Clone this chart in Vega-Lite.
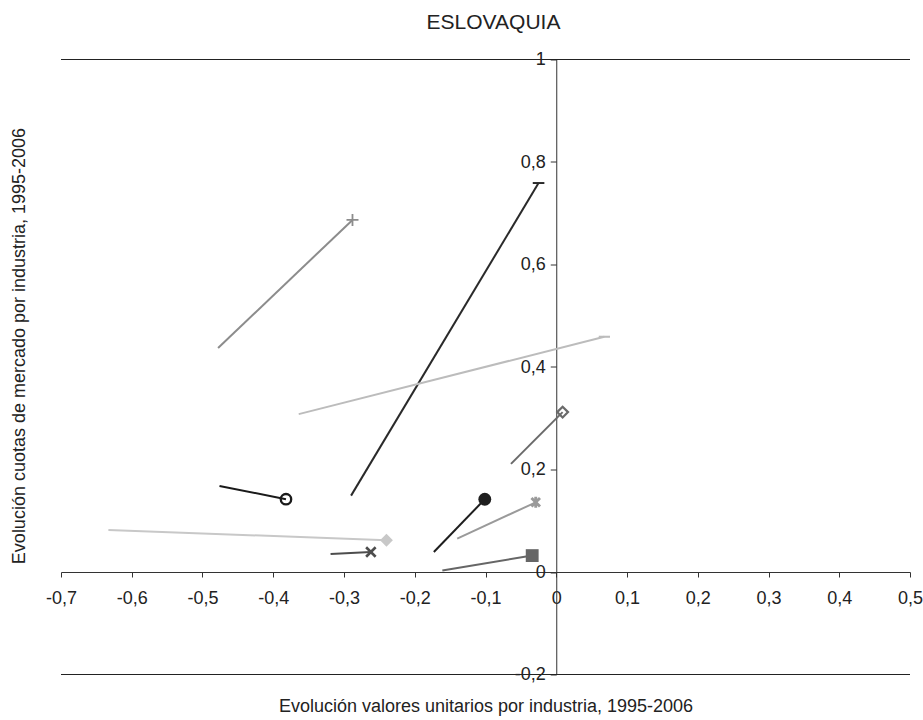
{
  "$schema": "https://vega.github.io/schema/vega-lite/v6.json",
  "width": 849,
  "height": 615,
  "autosize": {"type": "none"},
  "padding": {"left": 61, "top": 59.5, "right": 13, "bottom": 45.5},
  "background": "white",
  "config": {
    "view": {"stroke": null},
    "font": "Liberation Sans",
    "locale": {"number": {"decimal": ",", "thousands": ".", "grouping": [3], "currency": ["", " €"], "minus": "-"}}
  },
  "title": {
    "text": "ESLOVAQUIA",
    "frame": "group",
    "anchor": "middle",
    "fontSize": 21,
    "fontWeight": "normal",
    "font": "Liberation Sans",
    "color": "#222222",
    "offset": 18,
    "dx": 8
  },
  "data": {
    "values": [
      {"serie": "S1", "punto": "inicio", "x": -0.478, "y": 0.437},
      {"serie": "S1", "punto": "fin", "x": -0.288, "y": 0.687},
      {"serie": "S2", "punto": "inicio", "x": -0.290, "y": 0.149},
      {"serie": "S2", "punto": "fin", "x": -0.025, "y": 0.759},
      {"serie": "S3", "punto": "inicio", "x": -0.364, "y": 0.308},
      {"serie": "S3", "punto": "fin", "x": 0.068, "y": 0.459},
      {"serie": "S4", "punto": "inicio", "x": -0.064, "y": 0.211},
      {"serie": "S4", "punto": "fin", "x": 0.009, "y": 0.312},
      {"serie": "S5", "punto": "inicio", "x": -0.476, "y": 0.168},
      {"serie": "S5", "punto": "fin", "x": -0.382, "y": 0.142},
      {"serie": "S6", "punto": "inicio", "x": -0.633, "y": 0.082},
      {"serie": "S6", "punto": "fin", "x": -0.240, "y": 0.062},
      {"serie": "S7", "punto": "inicio", "x": -0.319, "y": 0.035},
      {"serie": "S7", "punto": "fin", "x": -0.262, "y": 0.039},
      {"serie": "S8", "punto": "inicio", "x": -0.173, "y": 0.039},
      {"serie": "S8", "punto": "fin", "x": -0.101, "y": 0.142},
      {"serie": "S9", "punto": "inicio", "x": -0.140, "y": 0.065},
      {"serie": "S9", "punto": "fin", "x": -0.029, "y": 0.136},
      {"serie": "S10", "punto": "inicio", "x": -0.161, "y": 0.003},
      {"serie": "S10", "punto": "fin", "x": -0.034, "y": 0.032}
    ]
  },
  "encoding": {
    "x": {
      "field": "x", "type": "quantitative",
      "scale": {"domain": [-0.7, 0.5], "nice": false, "zero": false},
      "axis": {
        "orient": "bottom", "offset": -102.5,
        "values": [-0.7, -0.6, -0.5, -0.4, -0.3, -0.2, -0.1, 0, 0.1, 0.2, 0.3, 0.4, 0.5],
        "format": ".1~f", "grid": false, "tickSize": 5, "labelPadding": 12,
        "labelFontSize": 18, "labelFont": "Liberation Sans", "labelColor": "#222222",
        "domainColor": "#333333", "tickColor": "#333333",
        "labelOverlap": false, "labelFlush": false, "labelBound": false,
        "title": "Evolución valores unitarios por industria, 1995-2006",
        "titleX": 424.5, "titleY": 134, "titleBaseline": "middle", "titleAlign": "center",
        "titleFontSize": 18, "titleFontWeight": "normal", "titleColor": "#222222", "titleFont": "Liberation Sans"
      }
    },
    "y": {
      "field": "y", "type": "quantitative",
      "scale": {"domain": [-0.2, 1], "nice": false, "zero": false},
      "axis": {
        "orient": "left", "offset": -495.25,
        "values": [-0.2, 0, 0.2, 0.4, 0.6, 0.8, 1],
        "format": ".1~f", "grid": false, "tickSize": 6, "labelPadding": 5,
        "labelFontSize": 18, "labelFont": "Liberation Sans", "labelColor": "#222222",
        "domainColor": "#333333", "tickColor": "#333333",
        "labelOverlap": false, "labelFlush": false, "labelBound": false,
        "title": "Evolución cuotas de mercado por industria, 1995-2006",
        "titleX": -537, "titleY": 286, "titleAngle": 270, "titleBaseline": "middle", "titleAlign": "center",
        "titleFontSize": 18, "titleFontWeight": "normal", "titleColor": "#222222", "titleFont": "Liberation Sans"
      }
    }
  },
  "layer": [
    {
      "mark": {"type": "rule", "color": "#222222", "strokeWidth": 1},
      "encoding": {"y": {"datum": 1}, "x": null}
    },
    {
      "mark": {"type": "rule", "color": "#222222", "strokeWidth": 1},
      "encoding": {"y": {"datum": -0.2}, "x": null}
    },
    {
      "mark": {"type": "line", "strokeWidth": 2},
      "encoding": {
        "detail": {"field": "serie"},
        "color": {
          "field": "serie", "type": "nominal", "legend": null,
          "scale": {
            "domain": ["S1", "S2", "S3", "S4", "S5", "S6", "S7", "S8", "S9", "S10"],
            "range": ["#8c8c8c", "#2a2a2a", "#bcbcbc", "#6a6a6a", "#1a1a1a", "#c8c8c8", "#4d4d4d", "#1e1e1e", "#9a9a9a", "#666666"]
          }
        }
      }
    },
    {
      "transform": [{"filter": "datum.punto == 'fin' && indexof(['S6','S8','S10'], datum.serie) < 0"}],
      "mark": {"type": "point", "filled": false, "opacity": 1},
      "encoding": {
        "color": {"field": "serie", "type": "nominal", "legend": null},
        "shape": {
          "field": "serie", "type": "nominal", "legend": null,
          "scale": {
            "domain": ["S1", "S2", "S3", "S4", "S5", "S6", "S7", "S8", "S9", "S10"],
            "range": ["M-1,0L1,0M0,-1L0,1", "M-1,0L1,0", "M-1,0L1,0", "diamond", "circle", "diamond", "M-1,-1L1,1M-1,1L1,-1", "circle", "M-1,-1L1,1M-1,1L1,-1M0,-1.3L0,1.3", "square"]
          }
        },
        "size": {
          "field": "serie", "type": "nominal", "legend": null,
          "scale": {
            "domain": ["S1", "S2", "S3", "S4", "S5", "S6", "S7", "S8", "S9", "S10"],
            "range": [144, 64, 225, 120, 120, 200, 120, 180, 210, 140]
          }
        },
        "strokeWidth": {
          "field": "serie", "type": "nominal", "legend": null,
          "scale": {
            "domain": ["S1", "S2", "S3", "S4", "S5", "S6", "S7", "S8", "S9", "S10"],
            "range": [1.8, 3, 3.5, 1.8, 2, 1, 2, 1, 2, 1]
          }
        }
      }
    },
    {
      "transform": [{"filter": "datum.punto == 'fin' && indexof(['S6','S8','S10'], datum.serie) >= 0"}],
      "mark": {"type": "point", "filled": true, "opacity": 1, "size": 165},
      "encoding": {
        "color": {"field": "serie", "type": "nominal", "legend": null},
        "shape": {"field": "serie", "type": "nominal", "legend": null}
      }
    }
  ]
}
